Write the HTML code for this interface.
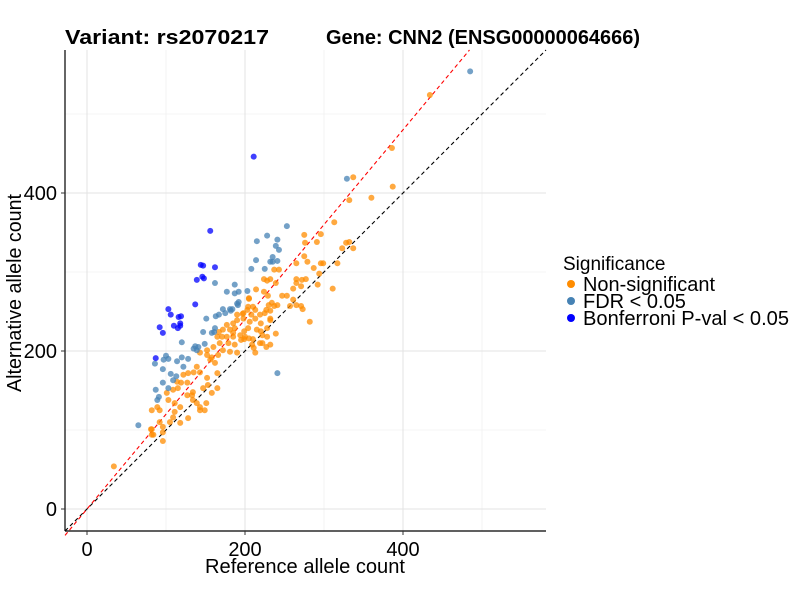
<!DOCTYPE html>
<html><head><meta charset="utf-8"><style>
body{margin:0;background:#fff;}
svg{font-family:"Liberation Sans",Arial,sans-serif;}
</style></head><body>
<svg id="chart" width="800" height="600">
<text x="65" y="44" font-size="20" font-weight="bold" textLength="204" lengthAdjust="spacingAndGlyphs">Variant: rs2070217</text>
<text x="326" y="44" font-size="20" font-weight="bold" textLength="314" lengthAdjust="spacingAndGlyphs">Gene: CNN2 (ENSG00000064666)</text>
<g id="grid"></g>
<g id="refs"></g>
<g id="pts"></g>
<line x1="65" y1="50" x2="65" y2="531" stroke="#000" stroke-width="1.2"/>
<line x1="65" y1="531" x2="546" y2="531" stroke="#000" stroke-width="1.2"/>
<g id="ticks"></g>
<text x="305" y="573" font-size="20" text-anchor="middle" textLength="200" lengthAdjust="spacingAndGlyphs">Reference allele count</text>
<text transform="translate(21,293) rotate(-90)" font-size="20" text-anchor="middle" textLength="198" lengthAdjust="spacingAndGlyphs">Alternative allele count</text>
<g>
<text x="563" y="270" font-size="19">Significance</text>
<circle cx="571" cy="284" r="4" fill="#FF8C00"/>
<text x="583" y="291" font-size="20" textLength="132" lengthAdjust="spacingAndGlyphs">Non-significant</text>
<circle cx="571" cy="301" r="4" fill="#4682B4"/>
<text x="583" y="308" font-size="20">FDR &lt; 0.05</text>
<circle cx="571" cy="318" r="4" fill="#0000FF"/>
<text x="583" y="325" font-size="20" textLength="206" lengthAdjust="spacingAndGlyphs">Bonferroni P-val &lt; 0.05</text>
</g>
</svg>
<script>
const majorTicks = [0, 200, 400];
const minorTicks = [100, 300, 500];
const redSlope = 1.2;
const bonfX = [211,156,144,147,162,146,148,139,103,137,106,116,119,110,118,118,115,92,96,87];
const bonfY = [446,352,309,308,306,294,292,290,253,259,246,243,244,232,235,232,229,230,223,191];
const fdrX = [485,329,253,228,241,215,239,243,235,241,232,235,214,208,225,187,203,192,187,192,191,184,181,162,177,190,172,175,167,163,182,151,162,161,147,158,120,137,141,135,139,149,100,97,103,86,120,114,128,122,96,106,113,109,96,103,87,91,89,65,241];
const fdrY = [554,418,358,346,341,339,333,328,319,314,313,313,315,304,304,284,276,275,273,262,258,253,253,286,275,260,253,248,246,244,251,241,229,224,224,223,211,206,205,203,201,209,194,189,190,184,192,187,190,180,177,171,168,163,160,153,151,142,138,106,172];
const nsX = [434,386,387,360,332,337,275,313,296,291,276,275,265,279,296,299,287,332,328,323,337,317,294,277,272,265,265,292,311,271,261,247,253,261,265,271,273,257,282,241,243,237,239,224,224,228,232,234,230,237,227,232,232,220,228,239,222,227,211,213,210,205,210,203,208,213,197,220,204,199,199,205,187,195,185,
214,229,205,204,213,198,190,198,190,206,185,177,172,167,181,187,165,171,177,185,168,179,194,200,215,222,228,232,225,219,160,152,172,181,190,166,158,209,219,232,
143,152,156,162,139,135,128,122,114,119,115,109,127,152,143,165,153,147,134,127,101,103,111,118,133,134,139,143,151,158,165,149,143,89,82,92,111,105,109,92,82,96,84,128,118,34,81,96,82,96];
const nsY = [524,457,408,394,391,420,347,363,348,338,337,320,311,313,311,311,305,338,337,330,330,311,298,291,290,291,286,284,279,282,279,270,270,265,258,257,253,257,237,258,303,303,286,275,291,289,291,261,258,257,252,251,241,235,229,222,210,205,204,198,215,266,256,252,246,241,247,225,229,225,215,216,208,214,223,
278,270,267,256,252,248,246,241,239,237,235,233,227,224,227,229,218,218,218,218,210,210,220,218,227,220,218,239,248,246,205,201,201,199,198,195,192,208,210,208,
198,195,189,185,180,173,172,170,161,160,153,151,160,166,173,172,157,153,148,144,147,138,134,129,144,138,134,129,134,147,153,125,125,129,125,125,123,110,116,110,101,97,94,115,109,54,101,86,94,104];
const NS='http://www.w3.org/2000/svg';
const xs = v => 87 + v*0.79;
const ys = v => 509 - v*0.79;
const dMin = -27.8, dMax = 581;
function mk(tag, attrs, parent){const e=document.createElementNS(NS,tag);for(const k in attrs)e.setAttribute(k,attrs[k]);document.getElementById(parent).appendChild(e);return e;}
minorTicks.forEach(t=>{
  let a=mk('line',{x1:xs(t),y1:50,x2:xs(t),y2:531,stroke:'#ebebeb','stroke-width':0.6},'grid');
  
  
  let b=mk('line',{x1:65,y1:ys(t),x2:546,y2:ys(t),stroke:'#ebebeb','stroke-width':0.6},'grid');
  
  
});
majorTicks.forEach(t=>{
  let a=mk('line',{x1:xs(t),y1:50,x2:xs(t),y2:531,stroke:'#e3e3e3','stroke-width':1},'grid');
  
  
  let b=mk('line',{x1:65,y1:ys(t),x2:546,y2:ys(t),stroke:'#e3e3e3','stroke-width':1},'grid');
  
  
  let tx=mk('line',{x1:xs(t),y1:531,x2:xs(t),y2:535,stroke:'#333'},'ticks');
  
  
  let ty=mk('line',{x1:61,y1:ys(t),x2:65,y2:ys(t),stroke:'#333'},'ticks');
  
  
  let lx=mk('text',{x:xs(t),y:556,'font-size':20,'text-anchor':'middle'},'ticks');lx.textContent=t;
  
  
  let ly=mk('text',{x:57,y:ys(t)+7,'font-size':20,'text-anchor':'end'},'ticks');ly.textContent=t;
  
  
});
let bl=mk('line',{x1:xs(dMin),y1:ys(dMin),x2:xs(dMax),y2:ys(dMax),stroke:'#000','stroke-width':1.1,'stroke-dasharray':'4,3'},'refs');


const rxMax = dMax/redSlope;
let rl=mk('line',{x1:xs(dMin),y1:ys(dMin*redSlope),x2:xs(rxMax),y2:ys(dMax),stroke:'#ff0000','stroke-width':1.1,'stroke-dasharray':'4,3'},'refs');


function plot(X,Y,col,name){X.forEach((x,i)=>{
  const c=mk('circle',{cx:xs(x),cy:ys(Y[i]),r:3,fill:col,'fill-opacity':0.75},'pts');
  
  
});}
plot(nsX,nsY,'#FF8C00','point-nonsignificant');
plot(fdrX,fdrY,'#4682B4','point-fdr');
plot(bonfX,bonfY,'#0000FF','point-bonferroni');
</script>
</body></html>
